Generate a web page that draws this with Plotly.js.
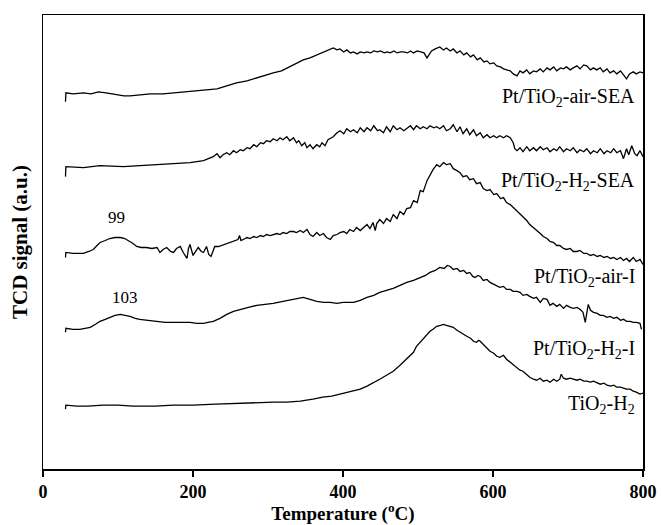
<!DOCTYPE html>
<html>
<head>
<meta charset="utf-8">
<script src="https://cdn.plot.ly/plotly-3.0.1.min.js"></script>
<style>html,body{margin:0;padding:0;background:#fff;}#chart{width:663px;height:525px;}</style>
</head>
<body>
<div id="chart"></div>
<script>
// Temperature (°C) and TCD signal (a.u., offset curves)
const tAirSEA = [30,30.5,40,54,64,74,84,98,108,116,130,143,160,174,190,205,218,232,245,258,272,285,296,307,318,329,338,347,356,365,376,383,387,392,396,401,405,410,414,419,423,428,432,437,441,446,450,455,459,463,468,472,477,481,486,490,494,499,503,508,512,515,518,523,529,534,538,543,547,552,556,561,565,570,574,579,583,588,592,596,601,605,610,614,619,623,627,632,636,640,645,649,654,658,663,667,672,676,681,685,690,694,698,703,707,712,716,721,725,730,734,738,743,747,752,756,761,765,770,774,778,782,787,791,796,800];
const sAirSEA = [369,378,377,378,377,379,378,376,375,375,376,377,377,378,379,380,381,382,385,388,390,393,396,398,400,404,408,411,413,416,419,422,423,421,422,419,421,418,419,417,419,418,419,418,420,419,420,418,419,418,420,418,419,419,418,420,418,420,419,418,413,417,420,422,424,421,423,420,422,418,420,416,418,414,416,411,413,409,410,407,408,405,404,402,401,400,397,395,400,398,401,397,400,399,402,399,403,401,404,400,403,402,404,401,403,405,402,406,405,401,403,401,403,399,402,398,400,397,400,396,392,397,399,397,399,398];

const tH2SEA = [30,30.5,54,76,107,143,174,196,214,227,232,236,240,245,249,254,258,263,267,272,276,281,285,290,294,298,303,307,312,316,320,325,329,334,338,341,345,349,352,356,360,365,369,372,376,380,384,387,392,396,401,405,410,414,419,423,428,432,437,441,446,449,454,458,463,467,472,476,481,485,490,494,498,503,507,512,516,521,525,529,534,538,543,547,552,556,560,565,569,574,578,583,587,592,596,601,605,609,614,618,623,627,629,632,636,640,645,649,654,658,663,667,672,676,681,685,689,694,698,703,707,712,716,721,725,730,734,739,743,748,752,757,761,765,770,774,778,781,785,789,792,796,800];
const sH2SEA = [294,304,303,305,304,306,307,308,310,314,317,313,316,318,316,320,318,321,320,323,322,326,324,328,327,330,329,332,330,333,331,334,330,333,328,330,325,328,323,326,322,326,324,328,325,331,333,334,338,340,337,342,339,341,338,343,339,343,340,345,340,341,338,344,339,345,341,343,340,342,345,341,345,342,344,342,345,343,344,342,345,340,342,346,339,344,337,342,336,341,335,338,333,336,333,335,333,335,333,335,333,328,322,320,323,319,324,320,323,320,324,321,323,319,322,320,324,319,322,320,323,318,321,319,322,317,320,318,322,317,320,318,322,318,320,312,322,316,325,317,315,320,314];

const tAirI = [30,30.5,40,54,61,67,72,76,83,89,96,103,109,114,120,125,131,138,145,152,156,160,165,170,174,178,183,187,192,194,196,200,203,207,211,214,218,221,224,227,229,234,238,243,249,254,260,262,264,267,272,276,281,285,290,294,298,303,307,312,316,320,325,329,334,338,343,347,352,356,360,365,369,374,378,383,387,392,396,401,405,409,414,418,423,427,432,436,440,443,445,449,454,458,463,467,472,476,481,485,490,494,499,503,507,512,516,520,525,529,534,538,543,547,552,556,560,565,569,574,578,583,587,592,596,601,605,610,614,618,623,627,632,636,640,645,649,654,658,663,667,672,676,681,685,689,694,698,703,707,712,716,721,725,730,734,739,743,748,752,757,761,765,770,774,778,782,787,791,796,800];
const sAirI = [213,218,217,217,219,221,225,228,230,232,233,233,232,230,227,224,223,223,222,223,218,221,223,219,218,222,224,218,212,222,226,215,219,223,219,218,224,216,214,221,224,224,225,227,228,229,231,235,230,231,233,232,234,233,235,234,236,235,236,237,236,238,237,239,239,238,240,238,241,236,234,238,235,237,233,231,235,236,238,239,237,241,239,243,240,243,246,242,248,240,247,251,247,252,249,256,252,259,256,262,263,270,268,280,279,290,296,301,306,304,308,306,307,302,300,298,294,295,291,292,287,288,282,280,281,276,277,272,273,268,266,263,259,257,253,250,246,243,240,237,234,232,229,228,225,225,222,221,222,219,219,220,217,217,215,216,214,215,213,214,212,213,211,213,210,212,209,213,209,211,206];

const tH2I = [30,30.5,40,49,56,63,70,76,83,89,96,103,110,116,123,129,140,152,163,174,185,196,205,214,220,227,236,245,254,263,274,285,296,307,320,334,340,347,356,365,374,383,392,400,414,423,432,441,449,458,467,476,485,494,503,510,516,523,529,535,539,543,547,552,556,561,565,569,573,576,580,583,587,592,596,601,605,609,614,618,623,627,632,636,640,645,649,654,658,663,667,672,676,680,685,689,694,698,703,707,712,716,720,723,727,730,734,739,743,747,752,756,761,765,770,774,778,783,787,791,796,798];
const sH2I = [138,142,141,141,142,143,146,149,151,153,155,156,155,154,152,151,150,149,148,148,148,148,147,147,148,149,152,156,159,161,163,165,166,167,169,171,172,173,171,169,168,168,167,168,168,170,173,175,178,180,182,185,188,190,193,195,198,200,203,202,205,204,201,202,199,200,197,198,194,193,195,194,190,191,188,186,184,183,184,181,181,179,179,178,175,176,174,172,173,168,172,171,165,167,164,166,162,165,163,162,163,161,158,148,166,160,158,157,155,155,153,154,152,153,150,151,149,149,148,148,147,141];

const tTiO2 = [30,30.5,45,60,80,100,120,150,174,200,230,263,285,307,325,343,360,373,385,396,405,414,423,432,440,449,458,467,476,485,490,494,498,503,507,512,516,520,525,530,534,538,543,547,552,556,561,565,570,574,578,581,583,587,592,596,601,605,609,614,618,623,627,632,636,640,645,649,654,658,663,667,672,676,681,685,689,691,694,698,703,707,712,716,721,725,730,734,739,743,748,752,757,761,765,770,774,778,783,787,791,796,800];
const sTiO2 = [61,65,64,64,65,65,64,64,65,65,66,67,67,68,68,69,71,73,74,76,77,79,81,84,87,91,95,99,105,111,115,118,124,128,132,136,139,141,144,145,146,145,144,143,140,138,136,134,132,129,128,130,129,126,122,119,117,114,113,115,111,108,106,103,100,99,96,93,91,90,92,89,90,88,91,89,91,96,92,91,92,91,90,91,89,89,88,89,87,86,87,85,84,85,83,83,82,81,81,79,78,76,77];

const curveLabels = ['Pt/TiO<sub>2</sub>-air-SEA','Pt/TiO<sub>2</sub>-H<sub>2</sub>-SEA','Pt/TiO<sub>2</sub>-air-I','Pt/TiO<sub>2</sub>-H<sub>2</sub>-I','TiO<sub>2</sub>-H<sub>2</sub>'];
const labelY = [373, 289, 193, 121, 66];
const peakText = ['99','103'];
const peakT = [98, 109];
const peakY = [253, 173];

const serif = 'Liberation Serif, Times New Roman, serif';
const series = [[tAirSEA,sAirSEA],[tH2SEA,sH2SEA],[tAirI,sAirI],[tH2I,sH2I],[tTiO2,sTiO2]];
const traces = series.map((s,i)=>({x:s[0],y:s[1],type:'scatter',mode:'lines',
  line:{color:'#000',width:1.3},name:curveLabels[i],hoverinfo:'skip'}));

const annotations = curveLabels.map((t,i)=>({x:792,y:labelY[i],xref:'x',yref:'y',text:t,showarrow:false,
  xanchor:'right',yanchor:'middle',font:{family:serif,size:20,color:'#000'}}))
  .concat(peakText.map((t,i)=>({x:peakT[i],y:peakY[i],xref:'x',yref:'y',text:t,showarrow:false,
  xanchor:'center',yanchor:'middle',font:{family:serif,size:17,color:'#000'}})));

const layout = {
  width:663,height:525,margin:{l:43,r:20,t:15,b:56},
  paper_bgcolor:'#fff',plot_bgcolor:'#fff',showlegend:false,
  xaxis:{range:[0,800],tickvals:[0,200,400,600,800],ticktext:['<b>0</b>','<b>200</b>','<b>400</b>','<b>600</b>','<b>800</b>'],
    ticks:'outside',ticklen:6,tickwidth:1.5,tickcolor:'#000',showline:true,linecolor:'#000',linewidth:1.5,mirror:true,
    showgrid:false,zeroline:false,tickfont:{family:serif,size:18,color:'#000'},
    title:{text:'<b>Temperature (<sup>o</sup>C)</b>',font:{family:serif,size:19,color:'#000'},standoff:11}},
  yaxis:{range:[1,456],showticklabels:false,ticks:'',showline:true,linecolor:'#000',linewidth:1.5,mirror:true,
    showgrid:false,zeroline:false,
    title:{text:'<b>TCD signal (a.u.)</b>',font:{family:serif,size:21,color:'#000'},standoff:8}},
  annotations:annotations
};
Plotly.newPlot('chart',traces,layout,{staticPlot:true,displayModeBar:false});
</script>
</body>
</html>
